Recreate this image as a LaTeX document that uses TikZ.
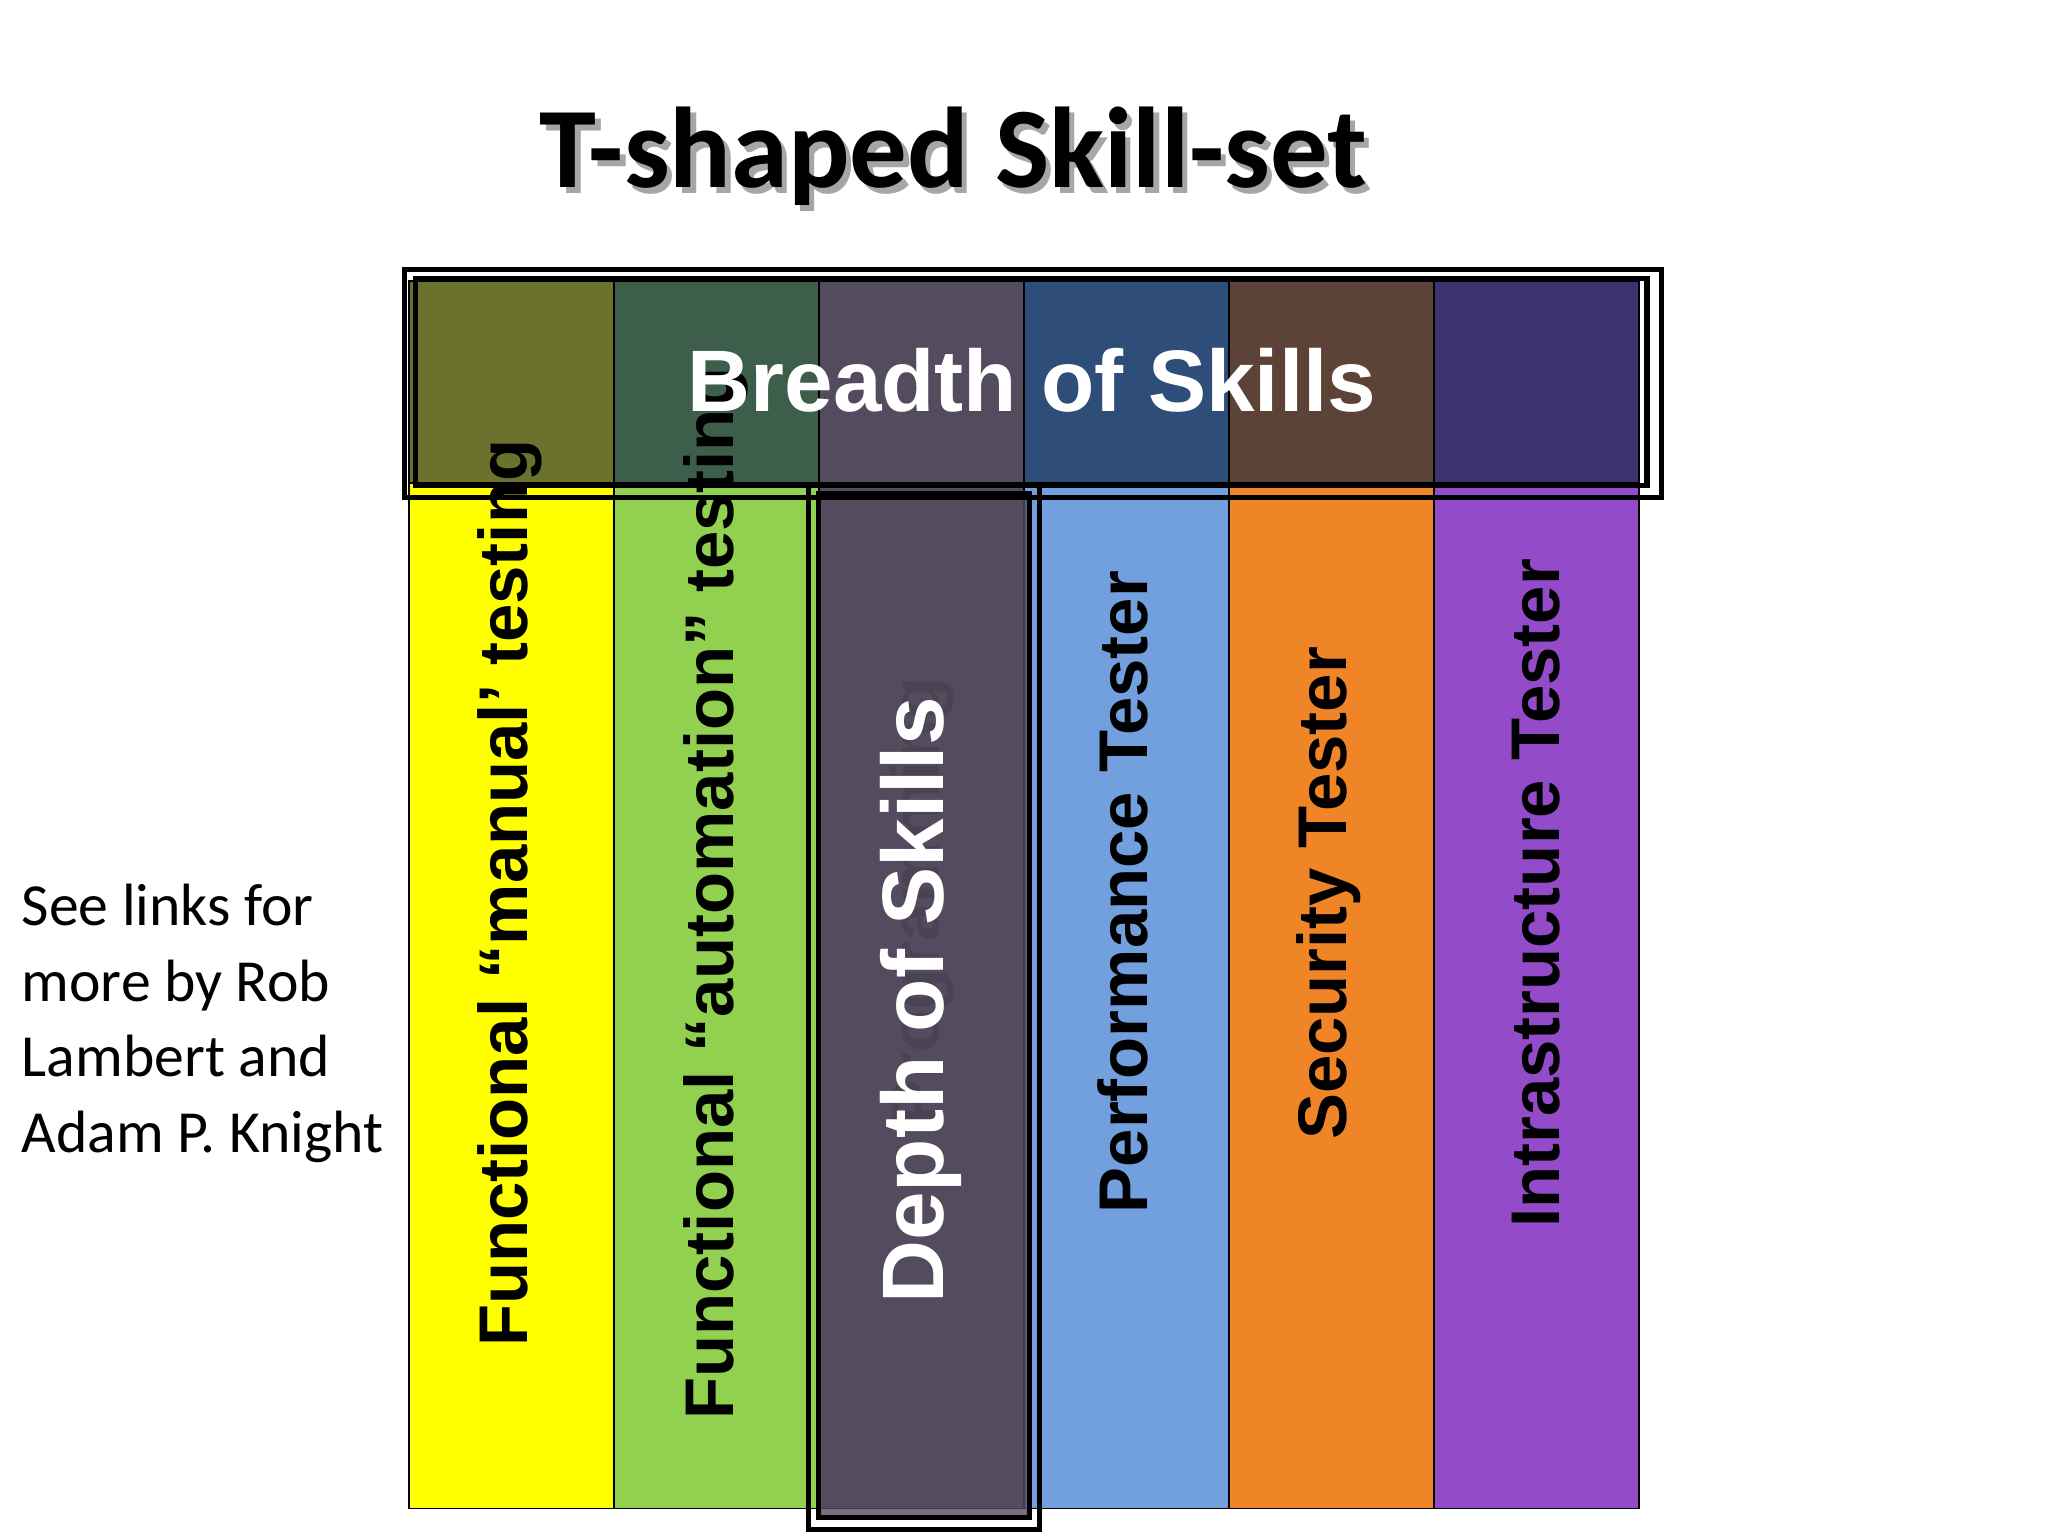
\documentclass[tikz,border=0pt]{standalone}
\usepackage{fontspec}
\setmainfont{Carlito}
\newfontfamily\arialb{Liberation Sans}[BoldFont={* Bold}]
\begin{document}
\begin{tikzpicture}[x=0.01cm,y=-0.01cm]
\tikzset{col/.style={draw=black,line width=0.4pt},
 lbl/.style={font=\arialb\bfseries\fontsize{15}{18}\selectfont,rotate=90,inner sep=0},
 frame/.style={draw=black,line width=1.1pt}}
\useasboundingbox (0,0) rectangle (1568,1176);
\fill[white] (0,0) rectangle (1568,1176);
\node[font=\bfseries\fontsize{25}{30}\selectfont,text=black!35] at (734,124) {T-shaped Skill-set};
\node (title)[font=\bfseries\fontsize{25}{30}\selectfont] at (730,120) {T-shaped Skill-set};
% columns
\definecolor{c1}{HTML}{FFFF00}\definecolor{c2}{HTML}{92D050}\definecolor{c3}{HTML}{554B5E}
\definecolor{c4}{HTML}{729FDD}\definecolor{c5}{HTML}{F08528}\definecolor{c6}{HTML}{944BC9}
\definecolor{t1}{HTML}{6A722E}\definecolor{t2}{HTML}{3D5E4A}\definecolor{t3}{HTML}{554B5E}
\definecolor{t4}{HTML}{2E4D78}\definecolor{t5}{HTML}{5D4337}\definecolor{t6}{HTML}{3D3370}
\foreach \i/\x in {1/313,2/470,3/627,4/784,5/941,6/1098}{
  \path[col,fill=c\i] (\x,215) rectangle ++(157,940);
  \path[col,fill=t\i] (\x,215) rectangle ++(157,155);
}
\node[lbl] (l1) at (390,684) {Functional “manual’ testing};
\node[lbl] (l2) at (548,684) {Functional “automation” testing};
\node[lbl,text=black,opacity=0.55] (l3) at (706,690) {Programming};
\node[lbl] (l4) at (860,683) {Performance Tester};
\node[lbl] (l5) at (1017,684) {Security Tester};
\node[lbl] (l6) at (1176,684) {Intrastructure Tester};
\fill[c3,opacity=0.8] (627,378) rectangle (788,1162);
% frames
\draw[frame] (310,206) rectangle (1272,381);
\draw[frame] (318,213) rectangle (1261,372);
\draw[frame] (619,371) rectangle (796,1171);
\draw[frame] (627,378) rectangle (788,1162);
\node[lbl,text=white,font=\arialb\bfseries\fontsize{19}{22}\selectfont] (depth) at (705,766) {Depth of Skills};
\node[inner sep=0,text=white,font=\arialb\bfseries\fontsize{19}{22}\selectfont] (breadth) at (790,291) {Breadth of Skills};
\node[anchor=north west,align=left,font=\fontsize{13}{16.5}\selectfont,inner sep=0] (note) at (16,676) {See links for\\more by Rob\\Lambert and\\Adam P. Knight};
\end{tikzpicture}
\end{document}
